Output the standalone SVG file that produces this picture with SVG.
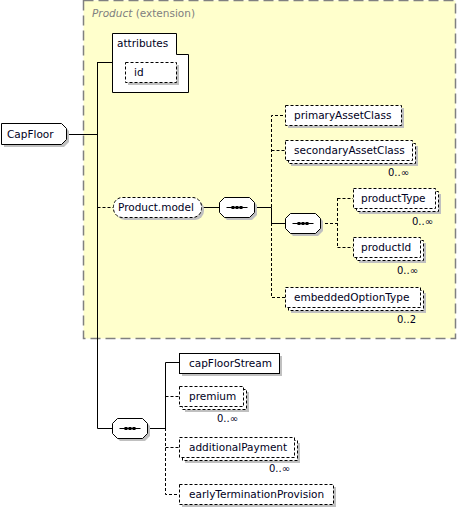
<svg xmlns="http://www.w3.org/2000/svg" width="457" height="511" viewBox="0 0 457 511">
<style>
text{font-family:"DejaVu Sans","Liberation Sans",sans-serif;font-size:10.5px;fill:#000022}
.occ{font-size:10px;text-anchor:end}
.sh{fill:#c0c0c0;stroke:none}
.solid{fill:#fff;stroke:#000;stroke-width:1}
.dash{fill:#fff;stroke:#000;stroke-width:1;stroke-dasharray:3,2}
.ln{stroke:#000;stroke-width:1;fill:none}
.ld{stroke:#000;stroke-width:1;fill:none;stroke-dasharray:3,2}
</style>
<defs>
<g id="seqsym">
<line x1="7" y1="10" x2="28" y2="10" stroke="#000" stroke-width="1"/>
<rect x="12" y="8.5" width="3" height="3" fill="#000"/>
<rect x="16" y="8.5" width="3" height="3" fill="#000"/>
<rect x="20" y="8.5" width="3" height="3" fill="#000"/>
</g>
</defs>
<g id="extension">
<rect x="83.5" y="0.5" width="372" height="338" fill="#ffffcc" stroke="#808080" stroke-width="1.5" stroke-dasharray="10,5"/>
<text x="92" y="17" style="fill:#808080"><tspan font-style="italic">Product</tspan> (extension)</text>
</g>
<g id="connectors">
<path class="ln" d="M66,134.5H97.5M97.5,62V428.5M97.5,62.5H112M97.5,428.5H112M201,207.5H219M254,207.5H271.5V223.5H285M147,428.5H165.5V362.5H179"/>
<path class="ld" d="M97.5,207.5H113M271.5,207V115.5H285M271.5,150.5H285M271.5,223V297.5H285M320,223.5H337.5M337.5,198V247.5M337.5,198.5H353M337.5,247.5H353M165.5,428V494.5H179M165.5,396.5H179M165.5,447.5H179"/>
</g>
<g id="CapFloor">
<polygon class="sh" points="4,126 64,126 69,131 69,142 64,147 4,147"/>
<polygon class="solid" points="1.5,123.5 61.5,123.5 66.5,128.5 66.5,139.5 61.5,144.5 1.5,144.5"/>
<text x="7" y="138">CapFloor</text>
</g>
<g id="attributes">
<polygon class="solid" points="112.5,33.5 176.5,33.5 176.5,54.5 188.5,54.5 188.5,92.5 112.5,92.5"/>
<text x="117" y="47">attributes</text>
</g>
<g id="id">
<rect class="sh" x="128" y="65" width="51" height="20"/>
<rect class="dash" x="125.5" y="62.5" width="51" height="20"/>
<text x="134" y="76">id</text>
</g>
<g id="Product.model">
<rect class="sh" x="116" y="200" width="88" height="20" rx="9"/>
<rect class="dash" x="113.5" y="197.5" width="88" height="20" rx="9"/>
<text x="118" y="211">Product.model</text>
</g>
<g id="seq1">
<polygon class="sh" points="227,200 252,200 257,205 257,215 252,220 227,220 222,215 222,205"/>
<polygon class="solid" points="224.5,197.5 249.5,197.5 254.5,202.5 254.5,212.5 249.5,217.5 224.5,217.5 219.5,212.5 219.5,202.5"/>
<use href="#seqsym" x="219.5" y="197.5"/>
</g>
<g id="primaryAssetClass">
<rect class="sh" x="288" y="108" width="116" height="20"/>
<rect class="dash" x="285.5" y="105.5" width="116" height="20"/>
<text x="294" y="119">primaryAssetClass</text>
</g>
<g id="secondaryAssetClass">
<rect class="sh" x="291" y="146" width="127" height="20"/>
<rect class="dash" x="288.5" y="143.5" width="127" height="20"/>
<rect class="dash" x="285.5" y="140.5" width="127" height="20"/>
<text x="294" y="154">secondaryAssetClass</text>
<text class="occ" x="409" y="176">0..∞</text>
</g>
<g id="seq2">
<polygon class="sh" points="293,216 318,216 323,221 323,231 318,236 293,236 288,231 288,221"/>
<polygon class="solid" points="290.5,213.5 315.5,213.5 320.5,218.5 320.5,228.5 315.5,233.5 290.5,233.5 285.5,228.5 285.5,218.5"/>
<use href="#seqsym" x="285.5" y="213.5"/>
</g>
<g id="productType">
<rect class="sh" x="359" y="194" width="82" height="20"/>
<rect class="dash" x="356.5" y="191.5" width="82" height="20"/>
<rect class="dash" x="353.5" y="188.5" width="82" height="20"/>
<text x="361" y="202">productType</text>
<text class="occ" x="433" y="225">0..∞</text>
</g>
<g id="productId">
<rect class="sh" x="359" y="243" width="67" height="20"/>
<rect class="dash" x="356.5" y="240.5" width="67" height="20"/>
<rect class="dash" x="353.5" y="237.5" width="67" height="20"/>
<text x="361" y="251">productId</text>
<text class="occ" x="418" y="274">0..∞</text>
</g>
<g id="embeddedOptionType">
<rect class="sh" x="291" y="293" width="135" height="20"/>
<rect class="dash" x="288.5" y="290.5" width="135" height="20"/>
<rect class="dash" x="285.5" y="287.5" width="135" height="20"/>
<text x="294" y="301">embeddedOptionType</text>
<text class="occ" x="416" y="323">0..2</text>
</g>
<g id="seq3">
<polygon class="sh" points="120,421 145,421 150,426 150,436 145,441 120,441 115,436 115,426"/>
<polygon class="solid" points="117.5,418.5 142.5,418.5 147.5,423.5 147.5,433.5 142.5,438.5 117.5,438.5 112.5,433.5 112.5,423.5"/>
<use href="#seqsym" x="112.5" y="418.5"/>
</g>
<g id="capFloorStream">
<rect class="sh" x="182" y="356" width="100" height="20"/>
<rect class="solid" x="179.5" y="353.5" width="100" height="20"/>
<text x="189" y="367">capFloorStream</text>
</g>
<g id="premium">
<rect class="sh" x="185" y="392" width="64" height="20"/>
<rect class="dash" x="182.5" y="389.5" width="64" height="20"/>
<rect class="dash" x="179.5" y="386.5" width="64" height="20"/>
<text x="189" y="400">premium</text>
<text class="occ" x="238" y="422">0..∞</text>
</g>
<g id="additionalPayment">
<rect class="sh" x="185" y="443" width="115" height="20"/>
<rect class="dash" x="182.5" y="440.5" width="115" height="20"/>
<rect class="dash" x="179.5" y="437.5" width="115" height="20"/>
<text x="189" y="451">additionalPayment</text>
<text class="occ" x="290" y="472">0..∞</text>
</g>
<g id="earlyTerminationProvision">
<rect class="sh" x="182" y="487" width="154" height="20"/>
<rect class="dash" x="179.5" y="484.5" width="154" height="20"/>
<text x="189" y="498">earlyTerminationProvision</text>
</g>
</svg>
